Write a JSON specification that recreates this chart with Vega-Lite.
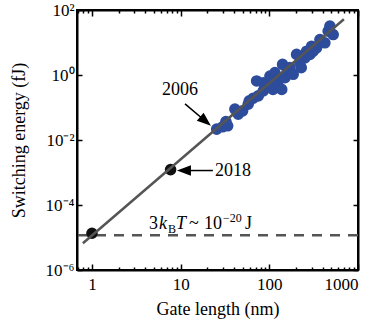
{
  "$schema": "https://vega.github.io/schema/vega-lite/v6.json",
  "autosize": "none",
  "width": 281,
  "height": 260,
  "padding": {"left": 77, "top": 10, "right": 21, "bottom": 63},
  "config": {
    "font": "Liberation Serif",
    "view": {"stroke": "#000", "strokeWidth": 2},
    "axis": {
      "grid": false,
      "domain": true,
      "labelFont": "Liberation Serif",
      "labelFontSize": 17,
      "labelColor": "#000",
      "titleFont": "Liberation Serif",
      "titleFontSize": 18,
      "titleFontWeight": "normal",
      "titleColor": "#000",
      "domainColor": "#000",
      "domainWidth": 2,
      "tickColor": "#000",
      "tickWidth": 1.5
    }
  },
  "datasets": {
    "blue": [
      {"L": 25.5, "E": 0.0217}, {"L": 29.7, "E": 0.0255}, {"L": 32.4, "E": 0.037}, {"L": 33.9, "E": 0.0274},
      {"L": 40.9, "E": 0.089}, {"L": 44.6, "E": 0.0625}, {"L": 50, "E": 0.079}, {"L": 57.8, "E": 0.126},
      {"L": 59.4, "E": 0.16}, {"L": 65.9, "E": 0.193}, {"L": 71.9, "E": 0.655}, {"L": 75, "E": 0.227},
      {"L": 85.4, "E": 0.58}, {"L": 85.4, "E": 0.324}, {"L": 89, "E": 0.41}, {"L": 97.3, "E": 0.46},
      {"L": 101.6, "E": 0.93}, {"L": 103.5, "E": 0.655}, {"L": 110, "E": 0.46}, {"L": 110, "E": 0.36},
      {"L": 115.7, "E": 1.18}, {"L": 126, "E": 0.655}, {"L": 138, "E": 0.36}, {"L": 141, "E": 2.12},
      {"L": 150, "E": 0.83}, {"L": 159, "E": 1.5}, {"L": 171, "E": 1.68}, {"L": 186, "E": 1.05},
      {"L": 203, "E": 4.3}, {"L": 221, "E": 2.38}, {"L": 229, "E": 1.68}, {"L": 252, "E": 3.39},
      {"L": 263, "E": 5.4}, {"L": 287, "E": 4.3}, {"L": 300, "E": 7.7}, {"L": 313, "E": 5.4},
      {"L": 341, "E": 6.85}, {"L": 372, "E": 12.3}, {"L": 423, "E": 9.8}, {"L": 461, "E": 22.3},
      {"L": 482, "E": 31.8}, {"L": 525, "E": 17.6}
    ],
    "black": [{"L": 1, "E": 1.35e-5}, {"L": 7.7, "E": 1.23e-3}],
    "fit": [{"L": 0.79, "E": 6.67e-6}, {"L": 693, "E": 51.9}],
    "kt": [{"E": 1.17e-5}],
    "ann": [{"L": 4.39, "E": 1.79e-5}]
  },
  "layer": [
    {
      "data": {"name": "kt"},
      "mark": {"type": "rule", "color": "#555", "strokeWidth": 2.5, "strokeDash": [10, 8]},
      "encoding": {
        "y": {"field": "E", "type": "quantitative",
          "scale": {"type": "log", "domain": [1e-6, 100], "nice": false},
          "axis": {"orient": "left", "title": "Switching energy (fJ)", "values": [1e-6, 1e-4, 1e-2, 1, 100],
            "tickSize": -5, "labelPadding": 8, "titlePadding": 17,
            "labelExpr": "datum.value > 10 ? '10²' : datum.value > 0.1 ? '10⁰' : datum.value > 0.001 ? '10⁻²' : datum.value > 0.00001 ? '10⁻⁴' : '10⁻⁶'"}}
      }
    },
    {
      "data": {"name": "blue"},
      "mark": {"type": "point", "filled": true, "opacity": 1, "color": "#2D4C9C", "size": 135},
      "encoding": {
        "x": {"field": "L", "type": "quantitative",
          "scale": {"type": "log", "domain": [0.678, 1000], "nice": false},
          "axis": {"orient": "bottom", "title": "Gate length (nm)", "values": [1, 10, 100, 1000],
            "tickSize": -6, "labelPadding": 12, "titlePadding": 8,
            "labelExpr": "format(datum.value, 'd')"}},
        "y": {"field": "E", "type": "quantitative",
          "scale": {"type": "log", "domain": [1e-6, 100], "nice": false},
          "axis": {"orient": "right", "title": null, "labels": false, "values": [1e-6, 1e-4, 1e-2, 1, 100], "tickSize": -5}}
      }
    },
    {
      "data": {"name": "black"},
      "mark": {"type": "point", "filled": true, "opacity": 1, "color": "#111", "size": 135},
      "encoding": {
        "x": {"field": "L", "type": "quantitative",
          "scale": {"type": "log", "domain": [0.678, 1000], "nice": false},
          "axis": {"orient": "top", "title": null, "labels": false, "values": [1, 10, 100, 1000], "tickSize": -6}},
        "y": {"field": "E", "type": "quantitative",
          "scale": {"type": "log", "domain": [1e-6, 100], "nice": false}, "axis": null}
      }
    },
    {
      "data": {"name": "fit"},
      "mark": {"type": "line", "color": "#555", "strokeWidth": 2.5},
      "encoding": {
        "x": {"field": "L", "type": "quantitative",
          "scale": {"type": "log", "domain": [0.678, 1000], "nice": false},
          "axis": {"orient": "bottom", "title": null, "labels": false, "domain": false, "tickSize": -3,
            "values": [0.7, 0.8, 0.9, 2, 3, 4, 5, 6, 7, 8, 9, 20, 30, 40, 50, 60, 70, 80, 90, 200, 300, 400, 500, 600, 700, 800, 900]}},
        "y": {"field": "E", "type": "quantitative",
          "scale": {"type": "log", "domain": [1e-6, 100], "nice": false}, "axis": null}
      }
    },
    {
      "data": {"values": [{"L1": 11.2, "E1": 0.129, "L2": 19.1, "E2": 0.0377}, {"L1": 23.1, "E1": 1.15e-3, "L2": 10.9, "E2": 1.15e-3}]},
      "mark": {"type": "rule", "color": "#000", "strokeWidth": 1.5},
      "encoding": {
        "x": {"field": "L1", "type": "quantitative",
          "scale": {"type": "log", "domain": [0.678, 1000], "nice": false},
          "axis": {"orient": "top", "title": null, "labels": false, "domain": false, "tickSize": -3,
            "values": [0.7, 0.8, 0.9, 2, 3, 4, 5, 6, 7, 8, 9, 20, 30, 40, 50, 60, 70, 80, 90, 200, 300, 400, 500, 600, 700, 800, 900]}},
        "y": {"field": "E1", "type": "quantitative",
          "scale": {"type": "log", "domain": [1e-6, 100], "nice": false}, "axis": null},
        "x2": {"field": "L2"},
        "y2": {"field": "E2"}
      }
    },
    {
      "data": {"values": [{"L": 19.1, "E": 0.0377}]},
      "mark": {"type": "point", "filled": true, "opacity": 1, "color": "#000", "size": 196, "angle": 130, "shape": "M0,-1L0.75,1L-0.75,1Z"},
      "encoding": {
        "x": {"field": "L", "type": "quantitative", "scale": {"type": "log", "domain": [0.678, 1000], "nice": false}, "axis": null},
        "y": {"field": "E", "type": "quantitative", "scale": {"type": "log", "domain": [1e-6, 100], "nice": false}, "axis": null}
      }
    },
    {
      "data": {"values": [{"L": 10.9, "E": 1.15e-3}]},
      "mark": {"type": "point", "filled": true, "opacity": 1, "color": "#000", "size": 196, "angle": 270, "shape": "M0,-1L0.75,1L-0.75,1Z"},
      "encoding": {
        "x": {"field": "L", "type": "quantitative", "scale": {"type": "log", "domain": [0.678, 1000], "nice": false}, "axis": null},
        "y": {"field": "E", "type": "quantitative", "scale": {"type": "log", "domain": [1e-6, 100], "nice": false}, "axis": null}
      }
    },
    {
      "data": {"values": [{"L": 9.82, "E": 0.347, "t": "2006"}]},
      "mark": {"type": "text", "fontSize": 18, "baseline": "middle", "align": "center", "color": "#000"},
      "encoding": {
        "x": {"field": "L", "type": "quantitative", "scale": {"type": "log", "domain": [0.678, 1000], "nice": false}, "axis": null},
        "y": {"field": "E", "type": "quantitative", "scale": {"type": "log", "domain": [1e-6, 100], "nice": false}, "axis": null},
        "text": {"field": "t"}
      }
    },
    {
      "data": {"values": [{"L": 24.4, "E": 1.15e-3, "t": "2018"}]},
      "mark": {"type": "text", "fontSize": 18, "baseline": "middle", "align": "left", "color": "#000"},
      "encoding": {
        "x": {"field": "L", "type": "quantitative", "scale": {"type": "log", "domain": [0.678, 1000], "nice": false}, "axis": null},
        "y": {"field": "E", "type": "quantitative", "scale": {"type": "log", "domain": [1e-6, 100], "nice": false}, "axis": null},
        "text": {"field": "t"}
      }
    },
    {
      "data": {"name": "ann"},
      "layer": [
        {"mark": {"type": "text", "text": "3", "fontSize": 18, "align": "left", "baseline": "alphabetic", "dx": 0}},
        {"mark": {"type": "text", "text": "k", "fontSize": 18, "fontStyle": "italic", "align": "left", "baseline": "alphabetic", "dx": 10}},
        {"mark": {"type": "text", "text": "B", "fontSize": 12, "align": "left", "baseline": "alphabetic", "dx": 19, "dy": 4}},
        {"mark": {"type": "text", "text": "T", "fontSize": 18, "fontStyle": "italic", "align": "left", "baseline": "alphabetic", "dx": 27}},
        {"mark": {"type": "text", "text": "~", "fontSize": 18, "align": "left", "baseline": "alphabetic", "dx": 40}},
        {"mark": {"type": "text", "text": "10", "fontSize": 18, "align": "left", "baseline": "alphabetic", "dx": 55}},
        {"mark": {"type": "text", "text": "−20", "fontSize": 12, "align": "left", "baseline": "alphabetic", "dx": 74, "dy": -7}},
        {"mark": {"type": "text", "text": "J", "fontSize": 18, "align": "left", "baseline": "alphabetic", "dx": 96}}
      ],
      "encoding": {
        "x": {"field": "L", "type": "quantitative", "scale": {"type": "log", "domain": [0.678, 1000], "nice": false}, "axis": null},
        "y": {"field": "E", "type": "quantitative", "scale": {"type": "log", "domain": [1e-6, 100], "nice": false}, "axis": null}
      }
    }
  ],
  "resolve": {"axis": {"x": "independent", "y": "independent"}}
}
